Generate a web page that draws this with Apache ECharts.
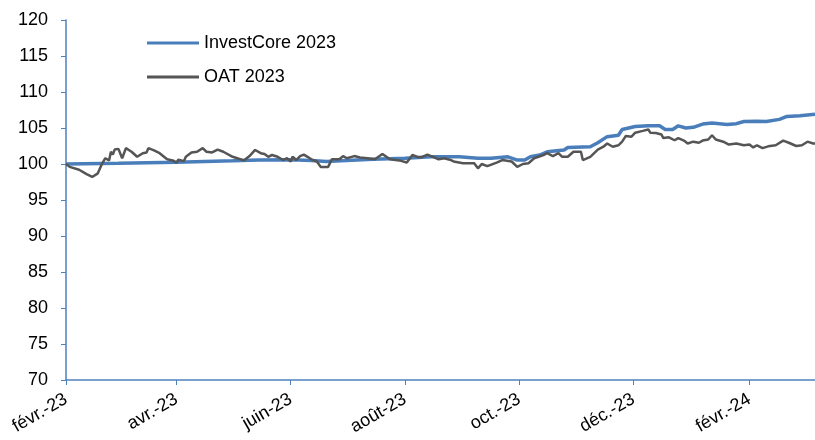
<!DOCTYPE html>
<html>
<head>
<meta charset="utf-8">
<script src="https://cdn.jsdelivr.net/npm/echarts@6/dist/echarts.min.js"></script>
<style>
  html, body { margin: 0; padding: 0; background: #fff; }
  #chart { width: 815px; height: 440px; }
</style>
</head>
<body>
<div id="chart"></div>
<script>
// valeurs
const investDates = ['2023-02-01','2023-03-01','2023-04-01','2023-05-01','2023-05-15','2023-06-01','2023-06-12','2023-06-20','2023-06-28','2023-07-15','2023-08-01','2023-08-15','2023-08-30','2023-09-09','2023-09-16','2023-09-25','2023-09-30','2023-10-04','2023-10-07','2023-10-12','2023-10-16','2023-10-25','2023-10-27','2023-11-08','2023-11-12','2023-11-17','2023-11-23','2023-11-25','2023-12-02','2023-12-09','2023-12-15','2023-12-18','2023-12-22','2023-12-25','2023-12-29','2024-01-02','2024-01-07','2024-01-12','2024-01-20','2024-01-25','2024-01-29','2024-02-05','2024-02-10','2024-02-17','2024-02-21','2024-02-28','2024-03-07'];
const investValues = [100.0,100.1,100.25,100.45,100.55,100.6,100.5,100.35,100.45,100.65,100.8,101.0,101.0,100.8,100.8,101.0,100.55,100.55,101.0,101.25,101.7,101.95,102.3,102.4,102.95,103.8,104.0,104.8,105.2,105.3,105.3,104.8,104.8,105.3,105.0,105.1,105.55,105.7,105.5,105.6,105.9,105.95,105.9,106.2,106.6,106.7,106.9];

const oatDates = ['2023-02-01','2023-02-03','2023-02-04','2023-02-08','2023-02-12','2023-02-15','2023-02-18','2023-02-20','2023-02-22','2023-02-23','2023-02-24','2023-02-25','2023-02-26','2023-02-27','2023-03-01','2023-03-02','2023-03-03','2023-03-05','2023-03-08','2023-03-11','2023-03-14','2023-03-16','2023-03-17','2023-03-20','2023-03-23','2023-03-27','2023-03-30','2023-04-01','2023-04-02','2023-04-05','2023-04-06','2023-04-09','2023-04-12','2023-04-15','2023-04-17','2023-04-20','2023-04-23','2023-04-26','2023-05-01','2023-05-07','2023-05-10','2023-05-13','2023-05-16','2023-05-18','2023-05-20','2023-05-22','2023-05-25','2023-05-28','2023-05-30','2023-06-01','2023-06-02','2023-06-04','2023-06-06','2023-06-08','2023-06-10','2023-06-12','2023-06-15','2023-06-17','2023-06-21','2023-06-23','2023-06-27','2023-06-29','2023-07-01','2023-07-05','2023-07-08','2023-07-12','2023-07-16','2023-07-20','2023-07-24','2023-07-29','2023-08-02','2023-08-05','2023-08-08','2023-08-10','2023-08-13','2023-08-16','2023-08-19','2023-08-22','2023-08-25','2023-08-27','2023-09-01','2023-09-07','2023-09-09','2023-09-11','2023-09-14','2023-09-19','2023-09-22','2023-09-27','2023-09-30','2023-10-03','2023-10-06','2023-10-09','2023-10-14','2023-10-16','2023-10-19','2023-10-22','2023-10-24','2023-10-27','2023-10-30','2023-11-03','2023-11-04','2023-11-08','2023-11-12','2023-11-15','2023-11-17','2023-11-20','2023-11-23','2023-11-25','2023-11-27','2023-11-30','2023-12-02','2023-12-06','2023-12-09','2023-12-10','2023-12-13','2023-12-16','2023-12-17','2023-12-20','2023-12-23','2023-12-25','2023-12-28','2023-12-30','2024-01-02','2024-01-05','2024-01-07','2024-01-10','2024-01-12','2024-01-14','2024-01-18','2024-01-21','2024-01-25','2024-01-29','2024-02-01','2024-02-03','2024-02-05','2024-02-08','2024-02-11','2024-02-15','2024-02-19','2024-02-22','2024-02-26','2024-02-29','2024-03-03','2024-03-06','2024-03-07'];
const oatValues = [100.0,99.6,99.8,99.2,98.6,98.2,98.7,99.9,100.8,101.0,100.5,101.7,101.3,102.0,102.1,101.9,100.8,102.2,101.7,101.0,101.5,101.6,102.2,101.9,101.5,100.65,100.5,100.2,100.6,100.4,101.0,101.6,101.7,102.2,101.7,101.6,102.0,101.7,101.0,100.5,101.1,101.95,101.5,101.4,101.0,101.25,101.0,100.55,100.8,100.35,101.0,100.55,101.1,101.3,101.0,100.65,100.35,99.6,99.6,100.65,100.65,101.1,100.8,101.1,100.9,100.8,100.65,101.4,100.65,100.5,100.2,101.25,100.95,100.95,101.3,101.0,100.65,100.8,100.6,100.35,100.1,100.1,99.4,100.0,99.7,100.2,100.55,100.35,99.6,100.0,100.1,100.8,101.25,101.5,101.1,101.5,101.0,101.0,101.7,101.7,100.55,101.0,102.0,102.4,102.85,102.4,102.6,103.1,103.9,103.8,104.35,104.6,104.8,104.35,104.3,104.1,103.6,103.7,103.3,103.6,103.25,102.85,103.1,102.95,103.25,103.4,104.0,103.4,103.1,102.7,102.85,102.6,102.7,102.3,102.6,102.2,102.45,102.6,103.25,102.95,102.5,102.6,103.1,102.85,102.85];

const tickDates = ['2023-02-01','2023-04-01','2023-06-01','2023-08-01','2023-10-01','2023-12-01','2024-02-01'];
const tickLabels = ['févr.-23','avr.-23','juin-23','août-23','oct.-23','déc.-23','févr.-24'];
const seriesNames = ['InvestCore 2023','OAT 2023'];

function ts(s) {
    const p = s.split('-').map(Number);
    return new Date(p[0], p[1] - 1, p[2]).getTime();
}

const labelByTime = {};
tickDates.forEach((d, i) => { labelByTime[ts(d)] = tickLabels[i]; });

const font = '"Liberation Sans", Arial, sans-serif';
const axisColor = '#4f81bd';

let myChart = echarts.init(document.getElementById('chart'));
myChart.setOption({
    animation: false,
    color: ['#4a7ebb', '#555555'],
    grid: { left: 66, right: 0, top: 20, bottom: 60, containLabel: false },
    legend: {
        orient: 'vertical',
        left: 142,
        top: 28,
        icon: 'rect',
        itemWidth: 52,
        itemHeight: 3,
        itemGap: 14,
        data: seriesNames,
        textStyle: { fontFamily: font, fontSize: 18, color: '#000', lineHeight: 20 }
    },
    xAxis: {
        type: 'value',
        min: ts('2023-02-01'),
        max: ts('2024-03-07'),
        splitLine: { show: false },
        axisLine: { lineStyle: { color: axisColor, width: 1.5 } },
        axisTick: { show: true, length: 5, lineStyle: { color: axisColor }, customValues: tickDates.map(ts) },
        axisLabel: {
            customValues: tickDates.map(ts),
            rotate: 30,
            margin: 18,
            fontFamily: font,
            fontSize: 18,
            color: '#000',
            formatter: v => labelByTime[v] || ''
        }
    },
    yAxis: {
        type: 'value',
        min: 70,
        max: 120,
        interval: 5,
        splitLine: { show: false },
        axisLine: { show: true, lineStyle: { color: axisColor, width: 1.5 } },
        axisTick: { show: true, length: 5, lineStyle: { color: axisColor } },
        axisLabel: { margin: 18, fontFamily: font, fontSize: 18, color: '#000' }
    },
    series: [{
        name: seriesNames[0],
        type: 'line',
        symbol: 'none',
        lineStyle: { width: 3.5 },
        data: investDates.map((d, i) => [ts(d), investValues[i]])
    }, {
        name: seriesNames[1],
        type: 'line',
        symbol: 'none',
        lineStyle: { width: 2.5 },
        data: oatDates.map((d, i) => [ts(d), oatValues[i]])
    }]
});
</script>
</body>
</html>
